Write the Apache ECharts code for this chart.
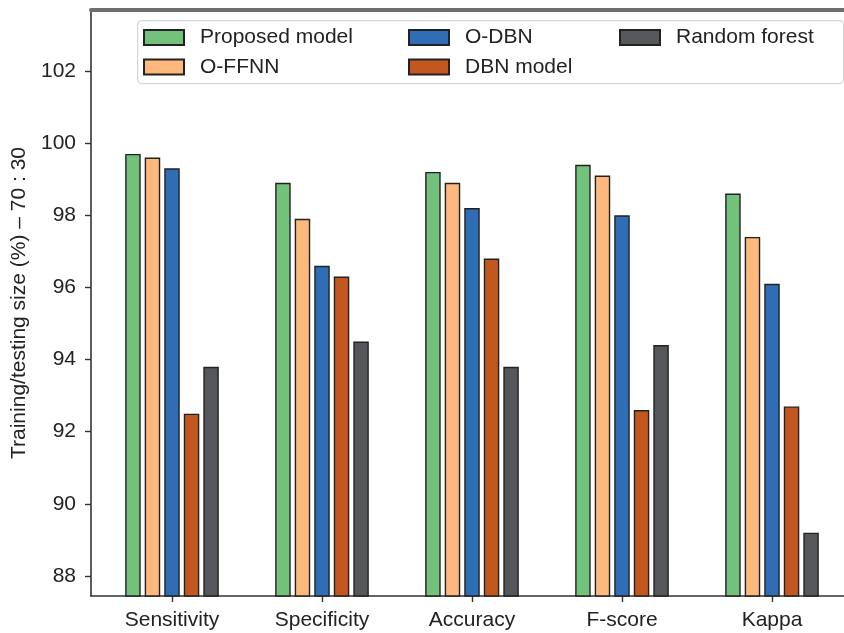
<!DOCTYPE html>
<html>
<head>
<meta charset="utf-8">
<script src="https://cdn.jsdelivr.net/npm/echarts@6/dist/echarts.min.js"></script>
<style>
  html, body { margin: 0; padding: 0; background: #ffffff; }
  #chart { width: 844px; height: 633px; }
</style>
</head>
<body>
<div id="chart"></div>
<script>
// Metrics on the x axis
const categories = ['Sensitivity', 'Specificity', 'Accuracy', 'F-score', 'Kappa'];

// Scores (%) per model, one value per metric
const proposedModel = [99.7, 98.9, 99.2, 99.4, 98.6];
const offnn         = [99.6, 97.9, 98.9, 99.1, 97.4];
const odbn          = [99.3, 96.6, 98.2, 98.0, 96.1];
const dbnModel      = [92.5, 96.3, 96.8, 92.6, 92.7];
const randomForest  = [93.8, 94.5, 93.8, 94.4, 89.2];

// Labelled ticks on the value axis
const yTicks = [88, 90, 92, 94, 96, 98, 100, 102];

const seriesNames = ['Proposed model', 'O-FFNN', 'O-DBN', 'DBN model', 'Random forest'];
const seriesData = [proposedModel, offnn, odbn, dbnModel, randomForest];
const seriesColors = ['#72c27b', '#fdb87d', '#2f6db5', '#c2581f', '#55575a'];

const FONT = "'Liberation Sans', Arial, Helvetica, sans-serif";
const TEXT = '#222222';

const chart = echarts.init(document.getElementById('chart'), null, { renderer: 'canvas' });

const series = seriesNames.map((name, i) => ({
  name: name,
  type: 'bar',
  xAxisIndex: 0,
  yAxisIndex: 0,
  data: seriesData[i],
  barWidth: 15.5,
  barGap: '26%',
  itemStyle: {
    color: seriesColors[i],
    borderColor: '#222222',
    borderWidth: 1.4
  },
  emphasis: { disabled: true }
}));

const legendBase = {
  orient: 'vertical',
  top: 27,
  padding: 0,
  itemGap: 8.5,
  itemWidth: 40,
  itemHeight: 15,
  icon: 'rect',
  selectedMode: false,
  textStyle: {
    fontFamily: FONT,
    fontSize: 21,
    lineHeight: 21,
    color: TEXT,
    padding: [0, 0, 0, 11]
  }
};

const option = {
  backgroundColor: '#ffffff',
  animation: false,
  textStyle: { fontFamily: FONT },
  grid: [
    // plotting area for the bars
    { left: 97, width: 750, top: 10, bottom: 37, containLabel: false, outerBoundsMode: 'none' },
    // frame carrying the spines
    { left: 91, right: -20, top: 10, bottom: 37, containLabel: false, outerBoundsMode: 'none' }
  ],
  graphic: [
    {
      type: 'rect',
      left: 137,
      top: 20,
      shape: { width: 706, height: 63, r: 4 },
      style: { fill: 'rgba(255,255,255,0.85)', stroke: '#d6d6d6', lineWidth: 1.2 },
      z: 5
    }
  ],
  legend: [
    Object.assign({}, legendBase, { left: 143, data: ['Proposed model', 'O-FFNN'], z: 10 }),
    Object.assign({}, legendBase, { left: 408, data: ['O-DBN', 'DBN model'], z: 10 }),
    Object.assign({}, legendBase, { left: 619, data: ['Random forest'], z: 10 })
  ],
  xAxis: [
    {
      type: 'category',
      gridIndex: 0,
      data: categories,
      boundaryGap: true,
      axisLine: { show: false },
      axisTick: { show: true, alignWithLabel: true, length: 6, lineStyle: { color: '#333', width: 1.4 } },
      axisLabel: { fontFamily: FONT, fontSize: 21, color: TEXT, margin: 14 },
      splitLine: { show: false }
    },
    {
      type: 'value',
      gridIndex: 1,
      position: 'bottom',
      axisLine: { show: true, onZero: false, lineStyle: { color: '#333', width: 1.6 } },
      axisTick: { show: false },
      axisLabel: { show: false },
      splitLine: { show: false }
    },
    {
      type: 'value',
      gridIndex: 1,
      position: 'top',
      axisLine: { show: true, onZero: false, lineStyle: { color: '#6e6e6e', width: 4 } },
      axisTick: { show: false },
      axisLabel: { show: false },
      splitLine: { show: false }
    }
  ],
  yAxis: [
    {
      type: 'value',
      gridIndex: 0,
      min: 87.445,
      max: 103.69,
      offset: 6,
      name: 'Training/testing size (%) \u2013 70 : 30',
      nameLocation: 'middle',
      nameGap: 59,
      nameTextStyle: { fontFamily: FONT, fontSize: 21, color: TEXT },
      axisLine: { show: false },
      axisTick: {
        show: true, length: 6, customValues: yTicks,
        lineStyle: { color: '#333', width: 1.4 }
      },
      axisLabel: {
        fontFamily: FONT, fontSize: 21, color: TEXT, margin: 15,
        customValues: yTicks
      },
      splitLine: { show: false }
    },
    {
      type: 'value',
      gridIndex: 1,
      position: 'left',
      axisLine: { show: true, onZero: false, lineStyle: { color: '#333', width: 1.6 } },
      axisTick: { show: false },
      axisLabel: { show: false },
      splitLine: { show: false }
    }
  ],
  series: series
};

chart.setOption(option);
</script>
</body>
</html>
